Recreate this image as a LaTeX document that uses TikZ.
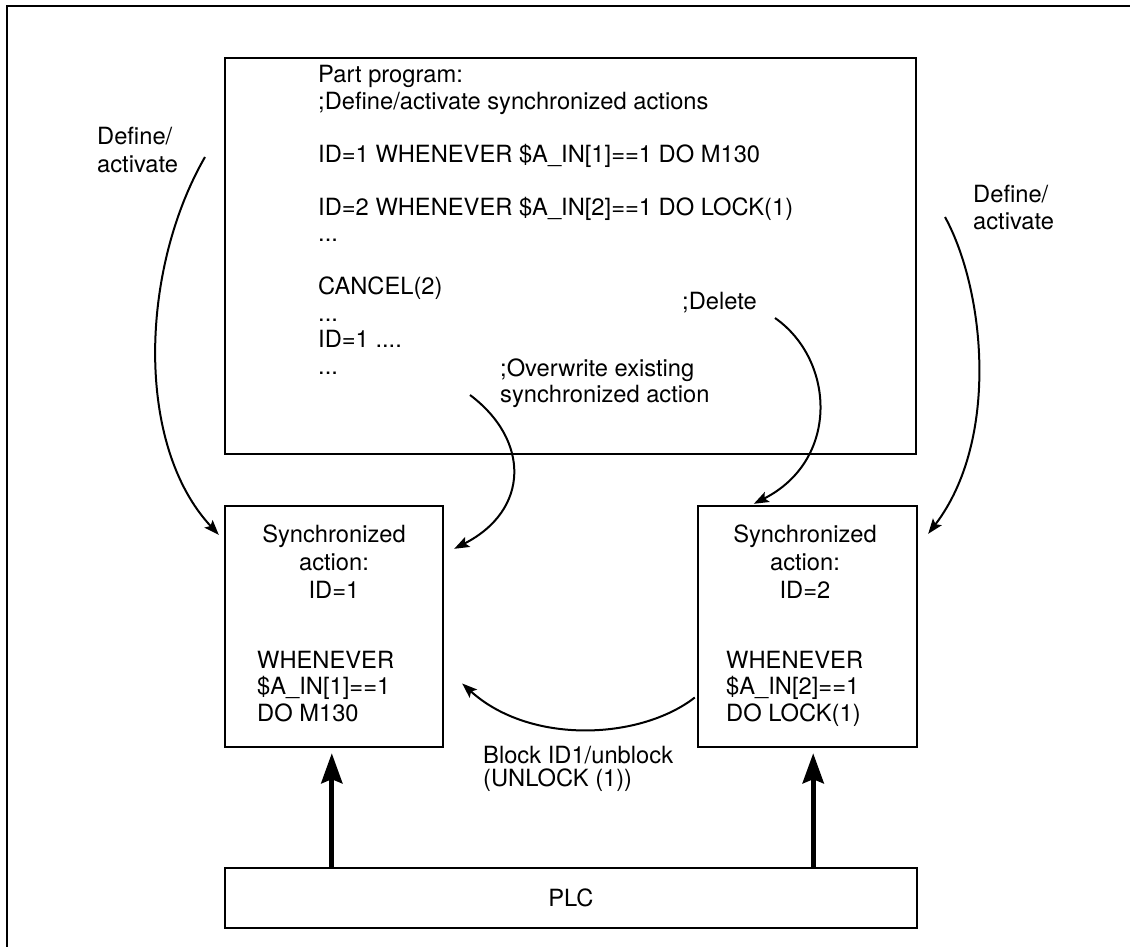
\documentclass[tikz,border=0pt]{standalone}
\usepackage{fontspec}
\setmainfont{TeX Gyre Heros}
\usetikzlibrary{arrows.meta,calc}

% a block of lines set at a fixed baseline distance; its baseline is that of the first line
\newcommand{\stackedlines}[2]{\vtop{\baselineskip=#1\relax #2}}
\newcommand{\centredline}[1]{\hbox to 200pt{\hfil #1\hfil}}

\begin{document}
\begin{tikzpicture}[x=1pt,y=-1pt,
  frame/.style={line width=2.8pt},
  box/.style={draw, line width=2.4pt, inner sep=0pt},
  txt/.style={inner sep=0pt, font=\fontsize{23.7}{26.5}\selectfont},
  curved/.style={line width=2pt, -{Stealth[length=15pt,width=11pt,inset=3pt]}},
  push/.style={line width=5pt, -{Stealth[length=30pt,width=21pt,inset=4pt]}}]

\useasboundingbox (0,0) rectangle (1130,947);

% page frame (left and top edges)
\draw[frame] (7,947) -- (7,6) -- (1130,6);

% boxes
\node[box, minimum width=691pt, minimum height=396pt] (prog) at (570.5,256) {};
\node[box, minimum width=218pt, minimum height=241pt] (sa1) at (334,626.5) {};
\node[box, minimum width=219pt, minimum height=241pt] (sa2) at (807.5,626.5) {};
\node[box, minimum width=692pt, minimum height=60pt] (plc) at (571,898) {};

% part program listing
\node[txt, anchor=base west] (listing) at (318,83) {\stackedlines{26.5pt}{%
  \hbox{Part program:}
  \hbox{;Define/activate synchronized actions}
  \hbox{}
  \hbox{ID=1 WHENEVER \$A\_IN[1]==1 DO M130}
  \hbox{}
  \hbox{ID=2 WHENEVER \$A\_IN[2]==1 DO LOCK(1)}
  \hbox{...}
  \hbox{}
  \hbox{CANCEL(2)}
  \hbox{...}
  \hbox{ID=1 ....}
  \hbox{...}}};

\node[txt, anchor=base west] (ovr) at (500,376) {\stackedlines{26pt}{%
  \hbox{;Overwrite existing}
  \hbox{synchronized action}}};
\node[txt, anchor=base west] (del) at (682,309) {;Delete};

% synchronized action contents
\node[txt, anchor=base] (h1) at (334,542) {\stackedlines{28pt}{%
  \centredline{Synchronized}
  \centredline{action:}
  \centredline{ID=1}}};
\node[txt, anchor=base west] (c1) at (257,668) {\stackedlines{26.5pt}{%
  \hbox{WHENEVER}
  \hbox{\$A\_IN[1]==1}
  \hbox{DO M130}}};

\node[txt, anchor=base] (h2) at (805,542) {\stackedlines{28pt}{%
  \centredline{Synchronized}
  \centredline{action:}
  \centredline{ID=2}}};
\node[txt, anchor=base west] (c2) at (726,668) {\stackedlines{26.5pt}{%
  \hbox{WHENEVER}
  \hbox{\$A\_IN[2]==1}
  \hbox{DO LOCK(1)}}};

\node[txt] (plctext) at (plc.center) {PLC};

% side labels
\node[txt, anchor=base west] (defl) at (97,145) {\stackedlines{28pt}{%
  \hbox{Define/}
  \hbox{activate}}};
\node[txt, anchor=base west] (defr) at (973,202) {\stackedlines{27pt}{%
  \hbox{Define/}
  \hbox{activate}}};
\node[txt, anchor=base west] (blk) at (483,763) {\stackedlines{23.5pt}{%
  \hbox{Block ID1/unblock}
  \hbox{(UNLOCK (1))}}};

% curved connectors
\coordinate (dLstart) at (205,157);
\coordinate (dRstart) at (945,217);
\coordinate (ovrstart) at (470,395);
\coordinate (delstart) at (775,318);

\draw[curved] (dLstart) .. controls (140,270) and (135,445) .. ($(sa1.north west)+(-5,30)$);
\draw[curved] (dRstart) .. controls (985,290) and (1000,440) .. ($(sa2.north east)+(10,29)$);
\draw[curved] (ovrstart) .. controls (530,440) and (530,510) .. ($(sa1.north east)+(10,44)$);
\draw[curved] (delstart) .. controls (835,360) and (840,460) .. ($(sa2.north west)+(57,-1)$);
\draw[curved] ($(sa2.west)+(-2,71)$) .. controls (640,740) and (530,745) .. ($(sa1.east)+(18,57)$);

% PLC signals
\draw[push] ($(plc.north west)+(108,0)$) -- ($(sa1.south west)+(108,5)$);
\draw[push] ($(plc.north east)+(-105,0)$) -- ($(sa2.south east)+(-105,5)$);

\end{tikzpicture}
\end{document}
